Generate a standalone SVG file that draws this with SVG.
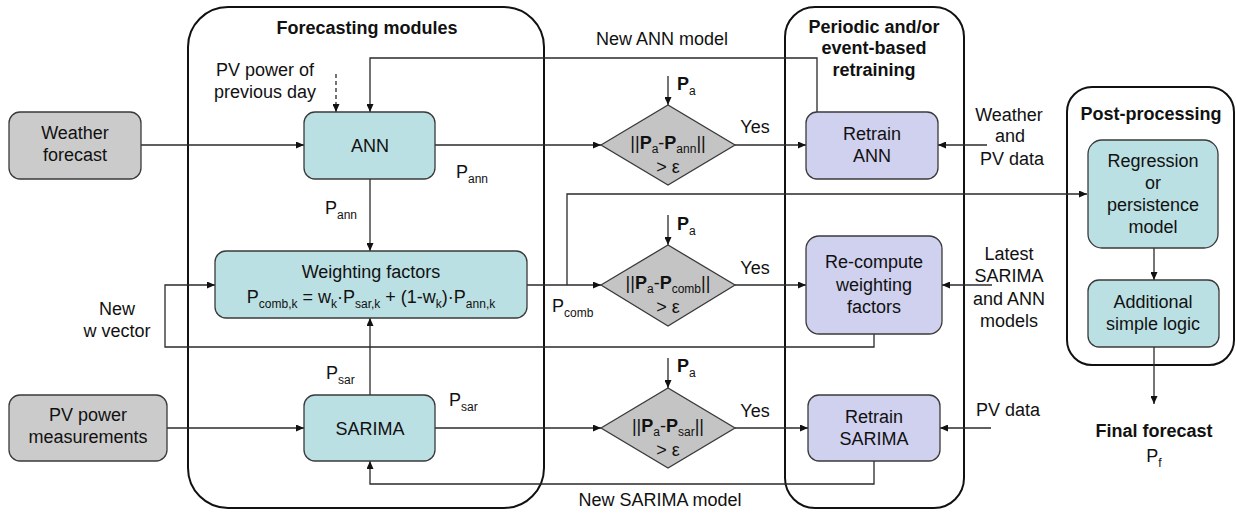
<svg xmlns="http://www.w3.org/2000/svg" width="1236" height="516" viewBox="0 0 1236 516">
  <style>
    text { font-family: "Liberation Sans", Arial, sans-serif; font-size: 18px; fill: #111; }
    .c { text-anchor: middle; }
    .b { font-weight: bold; }
    .s { font-size: 12px; font-weight: normal; }
    .frame { fill: none; stroke: #111; stroke-width: 2; }
    .input { fill: #cbcbcb; stroke: #3a3a3a; stroke-width: 1.3; }
    .model { fill: #bbe0e3; stroke: #3a3a3a; stroke-width: 1.3; }
    .retrain { fill: #d0d0ef; stroke: #3a3a3a; stroke-width: 1.3; }
    .check { fill: #c4c4c4; stroke: #3a3a3a; stroke-width: 1.3; }
    .ln { fill: none; stroke: #2a2a2a; stroke-width: 1.3; }
    .dash { stroke-dasharray: 4 3; }
  </style>
  <defs>
    <marker id="arr" viewBox="0 0 8 7" refX="8" refY="3.5" markerWidth="8" markerHeight="7" markerUnits="userSpaceOnUse" orient="auto">
      <path d="M0,0 L8,3.5 L0,7 z" fill="#111"/>
    </marker>
  </defs>

  <rect width="1236" height="516" fill="#fff"/>

  <!-- Section frames -->
  <g id="frame-forecasting">
    <rect class="frame" x="188" y="7" width="356" height="501" rx="40"/>
    <text class="c b" x="367" y="34">Forecasting modules</text>
  </g>
  <g id="frame-retraining">
    <rect class="frame" x="785" y="7" width="179" height="501" rx="30"/>
    <text class="c b" x="874" y="33">Periodic and/or</text>
    <text class="c b" x="874" y="54">event-based</text>
    <text class="c b" x="874" y="76">retraining</text>
  </g>
  <g id="frame-postprocessing">
    <rect class="frame" x="1067" y="87" width="167" height="278" rx="25"/>
    <text class="c b" x="1151" y="120">Post-processing</text>
  </g>

  <!-- Connectors -->
  <g id="connectors">
    <!-- inputs -->
    <line class="ln" x1="141" y1="145" x2="304" y2="145" marker-end="url(#arr)"/>
    <line class="ln dash" x1="336" y1="74" x2="336" y2="112" marker-end="url(#arr)"/>
    <line class="ln" x1="167" y1="428" x2="304" y2="428" marker-end="url(#arr)"/>
    <!-- model outputs -->
    <line class="ln" x1="435" y1="145" x2="601" y2="145" marker-end="url(#arr)"/>
    <line class="ln" x1="370" y1="179" x2="370" y2="251" marker-end="url(#arr)"/>
    <line class="ln" x1="370" y1="395" x2="370" y2="318" marker-end="url(#arr)"/>
    <line class="ln" x1="527" y1="285" x2="601" y2="285" marker-end="url(#arr)"/>
    <polyline class="ln" points="567,285 567,194 1087,194" marker-end="url(#arr)"/>
    <line class="ln" x1="435" y1="428" x2="601" y2="428" marker-end="url(#arr)"/>
    <!-- actual power into checks -->
    <line class="ln" x1="668" y1="76" x2="668" y2="105" marker-end="url(#arr)"/>
    <line class="ln" x1="668" y1="215" x2="668" y2="245" marker-end="url(#arr)"/>
    <line class="ln" x1="668" y1="358" x2="668" y2="388" marker-end="url(#arr)"/>
    <!-- checks to retraining -->
    <line class="ln" x1="735" y1="145" x2="806" y2="145" marker-end="url(#arr)"/>
    <line class="ln" x1="735" y1="285" x2="806" y2="285" marker-end="url(#arr)"/>
    <line class="ln" x1="735" y1="428" x2="808" y2="428" marker-end="url(#arr)"/>
    <!-- data into retraining -->
    <line class="ln" x1="987" y1="145" x2="938" y2="145" marker-end="url(#arr)"/>
    <line class="ln" x1="992" y1="285" x2="942" y2="285" marker-end="url(#arr)"/>
    <line class="ln" x1="991" y1="428" x2="940" y2="428" marker-end="url(#arr)"/>
    <!-- feedback loops -->
    <polyline class="ln" points="817,112 817,58 370,58 370,112" marker-end="url(#arr)"/>
    <polyline class="ln" points="874,334 874,347 165,347 165,285 215,285" marker-end="url(#arr)"/>
    <polyline class="ln" points="874,461 874,484 370,484 370,461" marker-end="url(#arr)"/>
    <!-- post-processing -->
    <line class="ln" x1="1154" y1="248" x2="1154" y2="280" marker-end="url(#arr)"/>
    <line class="ln" x1="1154" y1="347" x2="1154" y2="404" marker-end="url(#arr)"/>
  </g>

  <!-- Connector labels -->
  <g id="labels">
    <text class="c" x="265" y="76">PV power of</text>
    <text class="c" x="265" y="98">previous day</text>
    <text class="c" x="662" y="45">New ANN model</text>
    <text class="c" x="660" y="506">New SARIMA model</text>
    <text x="456" y="178">P<tspan class="s" dy="5">ann</tspan></text>
    <text x="325" y="214">P<tspan class="s" dy="5">ann</tspan></text>
    <text x="552" y="312">P<tspan class="s" dy="5">comb</tspan></text>
    <text x="326" y="379">P<tspan class="s" dy="5">sar</tspan></text>
    <text x="449" y="406">P<tspan class="s" dy="5">sar</tspan></text>
    <text x="677" y="90"><tspan class="b">P</tspan><tspan class="s" dy="5">a</tspan></text>
    <text x="677" y="230"><tspan class="b">P</tspan><tspan class="s" dy="5">a</tspan></text>
    <text x="677" y="372"><tspan class="b">P</tspan><tspan class="s" dy="5">a</tspan></text>
    <text class="c" x="755" y="133">Yes</text>
    <text class="c" x="755" y="274">Yes</text>
    <text class="c" x="755" y="417">Yes</text>
    <text class="c" x="117" y="315">New</text>
    <text class="c" x="117" y="337">w vector</text>
    <text class="c" x="1009" y="121">Weather</text>
    <text class="c" x="1010" y="142">and</text>
    <text class="c" x="1012" y="165">PV data</text>
    <text class="c" x="1009" y="260">Latest</text>
    <text class="c" x="1009" y="282">SARIMA</text>
    <text class="c" x="1009" y="305">and ANN</text>
    <text class="c" x="1009" y="327">models</text>
    <text class="c" x="1008" y="416">PV data</text>
    <text class="c b" x="1154" y="437">Final forecast</text>
    <text class="c" x="1154" y="462">P<tspan class="s" dy="5">f</tspan></text>
  </g>

  <!-- Inputs -->
  <g id="weather-forecast">
    <rect class="input" x="9" y="112" width="132" height="67" rx="11"/>
    <text class="c" x="75" y="139">Weather</text>
    <text class="c" x="75" y="161">forecast</text>
  </g>
  <g id="pv-measurements">
    <rect class="input" x="9" y="395" width="158" height="66" rx="11"/>
    <text class="c" x="88" y="421">PV power</text>
    <text class="c" x="88" y="443">measurements</text>
  </g>

  <!-- Forecasting modules -->
  <g id="ann">
    <rect class="model" x="304" y="112" width="131" height="67" rx="11"/>
    <text class="c" x="370" y="152">ANN</text>
  </g>
  <g id="weighting">
    <rect class="model" x="215" y="251" width="312" height="67" rx="11"/>
    <text class="c" x="371" y="278">Weighting factors</text>
    <text class="c" x="371" y="303">P<tspan class="s" dy="5">comb,k</tspan><tspan dy="-5"> = w</tspan><tspan class="s" dy="5">k</tspan><tspan dy="-5">·P</tspan><tspan class="s" dy="5">sar,k</tspan><tspan dy="-5"> + (1-w</tspan><tspan class="s" dy="5">k</tspan><tspan dy="-5">)·P</tspan><tspan class="s" dy="5">ann,k</tspan></text>
  </g>
  <g id="sarima">
    <rect class="model" x="304" y="395" width="131" height="66" rx="11"/>
    <text class="c" x="370" y="435">SARIMA</text>
  </g>

  <!-- Error checks -->
  <g id="check-ann">
    <polygon class="check" points="601,145 668,105 735,145 668,185"/>
    <text class="c" x="668" y="149">||<tspan class="b">P</tspan><tspan class="s" dy="4">a</tspan><tspan dy="-4">-</tspan><tspan class="b">P</tspan><tspan class="s" dy="4">ann</tspan><tspan dy="-4">||</tspan></text>
    <text class="c" x="668" y="173">&gt; ε</text>
  </g>
  <g id="check-comb">
    <polygon class="check" points="601,285 668,245 735,285 668,326"/>
    <text class="c" x="668" y="289">||<tspan class="b">P</tspan><tspan class="s" dy="4">a</tspan><tspan dy="-4">-</tspan><tspan class="b">P</tspan><tspan class="s" dy="4">comb</tspan><tspan dy="-4">||</tspan></text>
    <text class="c" x="668" y="313">&gt; ε</text>
  </g>
  <g id="check-sar">
    <polygon class="check" points="601,428 668,388 735,428 668,468"/>
    <text class="c" x="668" y="432">||<tspan class="b">P</tspan><tspan class="s" dy="4">a</tspan><tspan dy="-4">-</tspan><tspan class="b">P</tspan><tspan class="s" dy="4">sar</tspan><tspan dy="-4">||</tspan></text>
    <text class="c" x="668" y="456">&gt; ε</text>
  </g>

  <!-- Retraining -->
  <g id="retrain-ann">
    <rect class="retrain" x="806" y="112" width="132" height="67" rx="11"/>
    <text class="c" x="872" y="140">Retrain</text>
    <text class="c" x="872" y="162">ANN</text>
  </g>
  <g id="recompute-weights">
    <rect class="retrain" x="806" y="236" width="136" height="98" rx="13"/>
    <text class="c" x="874" y="268">Re-compute</text>
    <text class="c" x="874" y="291">weighting</text>
    <text class="c" x="874" y="313">factors</text>
  </g>
  <g id="retrain-sarima">
    <rect class="retrain" x="808" y="395" width="132" height="66" rx="11"/>
    <text class="c" x="874" y="423">Retrain</text>
    <text class="c" x="874" y="445">SARIMA</text>
  </g>

  <!-- Post-processing -->
  <g id="regression">
    <rect class="model" x="1088" y="140" width="130" height="108" rx="14"/>
    <text class="c" x="1153" y="167">Regression</text>
    <text class="c" x="1153" y="189">or</text>
    <text class="c" x="1153" y="211">persistence</text>
    <text class="c" x="1153" y="233">model</text>
  </g>
  <g id="simple-logic">
    <rect class="model" x="1088" y="280" width="131" height="67" rx="11"/>
    <text class="c" x="1153" y="308">Additional</text>
    <text class="c" x="1153" y="330">simple logic</text>
  </g>
</svg>
